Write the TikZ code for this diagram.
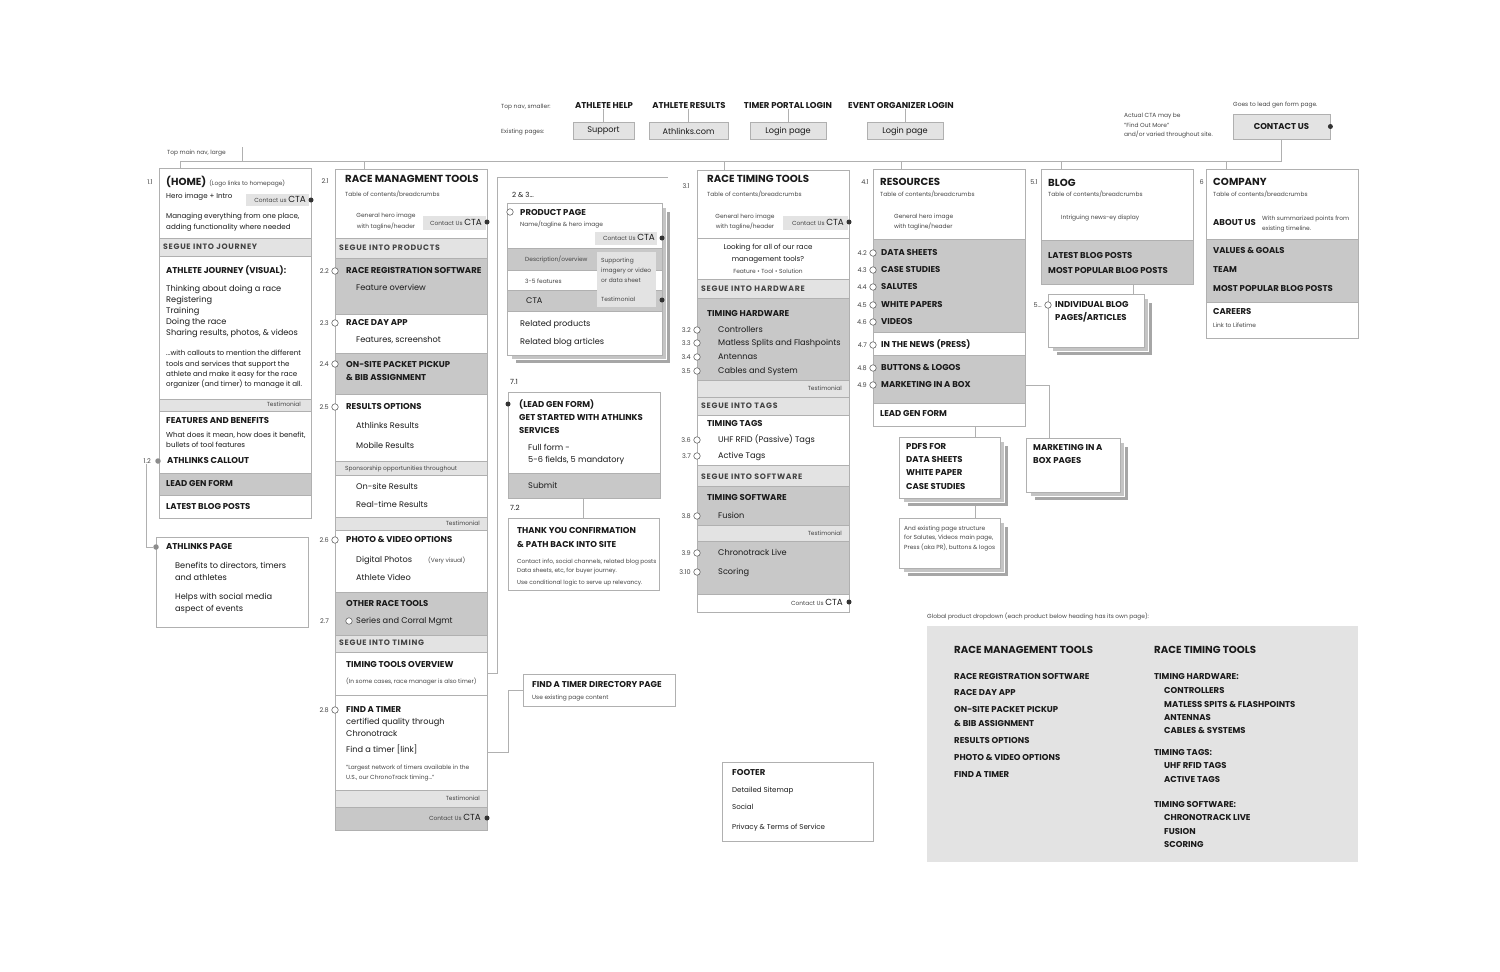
\documentclass[tikz,border=0pt]{standalone}
\usepackage{fontspec}
\setmainfont{Poppins}
\usetikzlibrary{fit,calc}
\definecolor{bd}{HTML}{B0B0B0}
\definecolor{lt}{HTML}{E3E3E3}
\definecolor{dk}{HTML}{C8C8C8}
\definecolor{tx}{HTML}{1A1A1A}
\definecolor{gtx}{HTML}{444444}
\definecolor{shA}{HTML}{C4C4C4}
\definecolor{shB}{HTML}{A6A6A6}
\newcommand\fhd{\fontsize{10.2}{11}\selectfont\bfseries}
\newcommand\fitm{\fontsize{8.5}{9.5}\selectfont\bfseries}
\newcommand\fseg{\fontsize{7.8}{8.5}\selectfont\bfseries\addfontfeature{LetterSpace=9}}
\newcommand\fbody{\fontsize{8.2}{9.5}\selectfont}
\newcommand\fsm{\fontsize{7.1}{8.5}\selectfont}
\newcommand\ftiny{\fontsize{5.9}{6.8}\selectfont}
\newcommand\fnum{\fontsize{6.5}{7}\selectfont}
\newcommand\fcta{\fontsize{8.8}{9.5}\selectfont}
\newcounter{tn}
\newcommand\Tx[3][]{\stepcounter{tn}\node[txt,#1] (t\arabic{tn}) at (#2) {#3};}
\newcommand\Sc[4][sec]{\node[#1,fit={(#3)(#4)}] (#2) {};}
\newcommand\Stk[3]{%
 \node[stk,fill=shB,fit={($(#2)+(8,8)$)($(#3)+(8,8)$)}] (#1-b) {};
 \node[stk,fill=shA,fit={($(#2)+(4,4)$)($(#3)+(4,4)$)}] (#1-a) {};
 \node[sec,fit={(#2)(#3)}] (#1) {};}
\newcommand\CTA{{\ftiny\color{gtx}Contact Us\ }{\fcta CTA}}
\tikzset{
 txt/.style={inner sep=0pt,anchor=mid west,text=tx,font=\fbody},
 hd/.style={font=\fhd}, itm/.style={font=\fitm}, seg/.style={font=\fseg,text=gtx},
 body/.style={font=\fbody}, sm/.style={font=\fsm}, tiny/.style={font=\ftiny,text=gtx},
 num/.style={font=\fnum,text=gtx,anchor=mid east},
 rt/.style={anchor=mid east}, ctr/.style={anchor=mid},
 sec/.style={draw=bd,line width=0.8pt,inner sep=0pt,fill=white},
 secl/.style={sec,fill=lt}, secd/.style={sec,fill=dk},
 pill/.style={fill=lt,inner sep=0pt},
 stk/.style={draw=white,line width=0.8pt,inner sep=0pt},
 odot/.style={circle,draw=black!60,fill=white,inner sep=0pt,minimum size=6.5pt,line width=0.6pt},
 fdot/.style={circle,fill=black!80,inner sep=0pt,minimum size=5pt},
 gdot/.style={circle,fill=black!45,inner sep=0pt,minimum size=5.5pt},
 ln/.style={draw=bd,line width=0.8pt},
 navbox/.style={draw=bd,fill=lt,line width=0.8pt,inner sep=0pt,minimum height=17pt,font=\fbody,text=tx},
 navh/.style={anchor=mid,font=\fitm},
 glob/.style={fill=lt,inner sep=0pt},
}
\begin{document}
\begin{tikzpicture}[x=1pt,y=-1pt]
\useasboundingbox (0,0) rectangle (1500,972);
\fill[white] (0,0) rectangle (1500,972);

% ---------- top nav ----------
\Tx[tiny]{501,106}{Top nav, smaller:}
\Tx[tiny]{501,131}{Existing pages:}
\node[txt,navh] (n1) at (604,106) {ATHLETE HELP};
\node[txt,navh] (n2) at (689,106) {ATHLETE RESULTS};
\node[txt,navh] (n3) at (788,106) {TIMER PORTAL LOGIN};
\node[txt,navh] (n4) at (901,106) {EVENT ORGANIZER LOGIN};
\node[navbox,minimum width=61pt] (p1) at (603.5,131) {Support};
\node[navbox,minimum width=79pt] (p2) at (688.5,131) {Athlinks.com};
\node[navbox,minimum width=76pt] (p3) at (788,131) {Login page};
\node[navbox,minimum width=76pt] (p4) at (905,131) {Login page};
\foreach \i in {1,...,4} \draw[ln] (n\i.south -| p\i.north) -- (p\i.north);

\Tx[tiny]{1124,115}{Actual CTA may be}
\Tx[tiny]{1124,125}{"Find Out More"}
\Tx[tiny]{1124,134}{and/or varied throughout site.}
\Tx[tiny]{1233,104}{Goes to lead gen form page.}
\node[navbox,minimum width=97pt,minimum height=25pt,font=\fitm] (cu) at (1281.5,126.5) {CONTACT US};
\node[fdot] (cud) at (cu.east) {};

% main nav line
\Tx[tiny]{167,152}{Top main nav, large}
\coordinate (mnL) at (180,161);
\coordinate (tm1) at (242,147);
\draw[ln] (tm1) -- (tm1 |- mnL);

% ---------- column 1 : home ----------
\Sc{c1a}{159,168}{311,238}
\Sc[secl]{c1b}{159,238}{311,256}
\Sc{c1c}{159,256}{311,399}
\Sc[secl]{c1d}{159,399}{311,411}
\Sc{c1e}{159,411}{311,473}
\Sc[secd]{c1f}{159,473}{311,495}
\Sc{c1g}{159,495}{311,518}
\Sc[pill]{cta1}{246,194}{309,206}
\node[fdot] (d1) at (311,200) {};
\Tx[num]{153,182}{1.1}
\Tx{166,183}{{\fhd (HOME)}\hspace{3pt}{\ftiny\color{gtx}(Logo links to homepage)}}
\Tx[sm]{166,196}{Hero image + Intro}
\Tx[rt]{306,200}{{\ftiny\color{gtx}Contact us\ }{\fcta CTA}}
\Tx[sm]{166,216}{Managing everything from one place,}
\Tx[sm]{166,227}{adding functionality where needed}
\Tx[seg]{163,247}{SEGUE INTO JOURNEY}
\Tx[itm]{166,271}{ATHLETE JOURNEY (VISUAL):}
\Tx{166,289}{Thinking about doing a race}
\Tx{166,300}{Registering}
\Tx{166,311}{Training}
\Tx{166,322}{Doing the race}
\Tx{166,333}{Sharing results, photos, \& videos}
\Tx[sm]{166,353}{...with callouts to mention the different}
\Tx[sm]{166,364}{tools and services that support the}
\Tx[sm]{166,374}{athlete and make it easy for the race}
\Tx[sm]{166,384}{organizer (and timer) to manage it all.}
\Tx[tiny,rt]{301,404}{Testimonial}
\Tx[itm]{166,421}{FEATURES AND BENEFITS}
\Tx[sm]{166,435}{What does it mean, how does it benefit,}
\Tx[sm]{166,445}{bullets of tool features}
\node[txt,num] (l12) at (151,461) {1.2};
\node[gdot] (d12) at (158,461) {};
\Tx[itm]{167,461}{ATHLINKS CALLOUT}
\Tx[itm]{166,484}{LEAD GEN FORM}
\Tx[itm]{166,507}{LATEST BLOG POSTS}
\draw[ln] (mnL) -- (mnL |- c1a.north);

% athlinks page
\Sc{ap}{156,537}{308,627}
\node[gdot] (apd) at (156,547) {};
\draw[ln] (l12.south -| 146,0) |- (apd);
\Tx[itm]{166,547}{ATHLINKS PAGE}
\Tx{175,566}{Benefits to directors, timers}
\Tx{175,578}{and athletes}
\Tx{175,597}{Helps with social media}
\Tx{175,609}{aspect of events}

% ---------- column 2 : race management ----------
\Sc{c2a}{335,169}{487,238}
\Sc[secl]{c2b}{335,238}{487,258}
\Sc[secd]{c2c}{335,258}{487,314}
\Sc{c2d}{335,314}{487,353}
\Sc[secd]{c2e}{335,353}{487,394}
\Sc{c2f}{335,394}{487,461}
\Sc[secl]{c2g}{335,461}{487,475}
\Sc{c2h}{335,475}{487,517}
\Sc[secl]{c2i}{335,517}{487,530}
\Sc{c2j}{335,530}{487,592}
\Sc[secd]{c2k}{335,592}{487,635}
\Sc[secl]{c2l}{335,635}{487,652}
\Sc{c2m}{335,652}{487,695}
\Sc{c2n}{335,695}{487,790}
\Sc[secl]{c2o}{335,790}{487,807}
\Sc[secd]{c2p}{335,807}{487,830}
\Sc[pill]{cta2}{423,216}{486,230}
\node[fdot] (d2) at (487,222) {};
\node[fdot] (d2b) at (487,818) {};
\Tx[num]{329,181}{2.1}
\Tx[hd]{345,180}{RACE MANAGMENT TOOLS}
\Tx[tiny]{345,194}{Table of contents/breadcrumbs}
\Tx[tiny,ctr]{386,215}{General hero image}
\Tx[tiny,ctr]{386,226}{with tagline/header}
\Tx[rt]{482,223}{\CTA}
\Tx[seg]{339,248}{SEGUE INTO PRODUCTS}
\foreach \y/\l/\n in {271/2.2/a,323/2.3/b,364/2.4/c,407/2.5/d,540/2.6/e,710/2.8/f}{
  \node[odot] (o2\n) at (335,\y) {};
  \node[txt,num] (l2\n) at (329,\y) {\l};}
\Tx[itm]{346,271}{RACE REGISTRATION SOFTWARE}
\Tx{356,288}{Feature overview}
\Tx[itm]{346,323}{RACE DAY APP}
\Tx{356,340}{Features, screenshot}
\Tx[itm]{346,365}{ON-SITE PACKET PICKUP}
\Tx[itm]{346,378}{\& BIB ASSIGNMENT}
\Tx[itm]{346,407}{RESULTS OPTIONS}
\Tx{356,426}{Athlinks Results}
\Tx{356,446}{Mobile Results}
\Tx[tiny]{345,468}{Sponsorship opportunities throughout}
\Tx{356,487}{On-site Results}
\Tx{356,505}{Real-time Results}
\Tx[tiny,rt]{480,523}{Testimonial}
\Tx[itm]{346,540}{PHOTO \& VIDEO OPTIONS}
\Tx{356,560}{Digital Photos}
\Tx[tiny]{428,560}{(Very visual)}
\Tx{356,578}{Athlete Video}
\Tx[itm]{346,604}{OTHER RACE TOOLS}
\node[txt,num] (l2g) at (329,621) {2.7};
\node[odot] (o2g) at (349,621) {};
\Tx{356,621}{Series and Corral Mgmt}
\Tx[seg]{339,643}{SEGUE INTO TIMING}
\Tx[itm]{346,665}{TIMING TOOLS OVERVIEW}
\Tx[tiny]{346,681}{(In some cases, race manager is also timer)}
\Tx[itm]{346,710}{FIND A TIMER}
\Tx{346,722}{certified quality through}
\Tx{346,734}{Chronotrack}
\Tx{346,750}{Find a timer [link]}
\Tx[tiny]{346,767}{"Largest network of timers available in the}
\Tx[tiny]{346,777}{U.S., our ChronoTrack timing..."}
\Tx[tiny,rt]{480,798}{Testimonial}
\Tx[rt]{481,818}{\CTA}
\draw[ln] ($(c2a.north west)+(30,0)$) -- ++(0,-8);

% bracket to product pages
\coordinate (br3) at (497,177);
\coordinate (br4) at (668,177);
\draw[ln] (c2m.east) -| (br3) -- (br4);

% ---------- product page ----------
\Stk{pp}{507,203}{662,355}
\Sc[secd]{ppb}{507,248}{662,270}
\Sc{ppc}{507,270}{662,290}
\Sc[secd]{ppd}{507,290}{662,311}
\Sc[pill]{ppov}{597,252}{656,307}
\Sc[pill]{ctap}{595,232}{657,245}
\node[fdot] (dp1) at (662,238) {};
\node[fdot] (dp2) at (662,300) {};
\node[odot] (op) at (510,212) {};
\Tx[sm]{512,195}{2 \& 3...}
\Tx[itm]{520,213}{PRODUCT PAGE}
\Tx[tiny]{520,224}{Name/tagline \& hero image}
\Tx[rt]{655,238}{\CTA}
\Tx[tiny]{525,259}{Description/overview}
\Tx[tiny]{525,281}{3-5 features}
\Tx{526,301}{CTA}
\Tx[tiny]{601,260}{Supporting}
\Tx[tiny]{601,270}{imagery or video}
\Tx[tiny]{601,280}{or data sheet}
\Tx[tiny]{601,299}{Testimonial}
\Tx{520,324}{Related products}
\Tx{520,342}{Related blog articles}

% lead gen form 7.1
\Sc{lg}{508,392}{660,473}
\Sc[secd]{lgs}{508,473}{660,498}
\node[fdot] (dlg) at (508,404) {};
\Tx[sm]{510,382}{7.1}
\Tx[itm]{519,405}{(LEAD GEN FORM)}
\Tx[itm]{519,418}{GET STARTED WITH ATHLINKS}
\Tx[itm]{519,431}{SERVICES}
\Tx{528,448}{Full form -}
\Tx{528,460}{5-6 fields, 5 mandatory}
\Tx{528,486}{Submit}
\Tx[sm]{510,508}{7.2}
\Sc{ty}{508,518}{659,590}
\coordinate (s72) at (583,498);
\draw[ln] (s72) -- (s72 |- ty.north);
\Tx[itm]{517,531}{THANK YOU CONFIRMATION}
\Tx[itm]{517,545}{\& PATH BACK INTO SITE}
\Tx[tiny,font=\fontsize{5.8}{6.5}\selectfont]{517,561}{Contact info, social channels, related blog posts}
\Tx[tiny,font=\fontsize{5.8}{6.5}\selectfont]{517,570}{Data sheets, etc, for buyer journey.}
\Tx[tiny,font=\fontsize{5.8}{6.5}\selectfont]{517,582}{Use conditional logic to serve up relevancy.}

% find a timer directory
\Sc{ftd}{523,674}{675,706}
\Tx[itm]{532,685}{FIND A TIMER DIRECTORY PAGE}
\Tx[tiny]{532,697}{Use existing page content}
\coordinate (ftA) at (487,752);
\draw[ln] (ftA) -| ($(ftd.west)+(-14,0)$) -- (ftd.west);

% ---------- column 4 : race timing ----------
\Sc{c4a}{697,170}{849,238}
\Sc{c4b}{697,238}{849,279}
\Sc[secl]{c4c}{697,279}{849,298}
\Sc[secd]{c4d}{697,298}{849,380}
\Sc[secl]{c4e}{697,380}{849,397}
\Sc[secl]{c4f}{697,397}{849,415}
\Sc{c4g}{697,415}{849,465}
\Sc[secl]{c4h}{697,465}{849,486}
\Sc[secd]{c4i}{697,486}{849,525}
\Sc[secl]{c4j}{697,525}{849,541}
\Sc[secd]{c4k}{697,541}{849,594}
\Sc{c4l}{697,594}{849,612}
\Sc[pill]{cta4}{783,216}{848,230}
\node[fdot] (d4) at (849,222) {};
\node[fdot] (d4b) at (849,602) {};
\Tx[num]{690,186}{3.1}
\Tx[hd]{707,180}{RACE TIMING TOOLS}
\Tx[tiny]{707,194}{Table of contents/breadcrumbs}
\Tx[tiny,ctr]{745,216}{General hero image}
\Tx[tiny,ctr]{745,226}{with tagline/header}
\Tx[rt]{844,223}{\CTA}
\Tx[sm,ctr]{768,247}{Looking for all of our race}
\Tx[sm,ctr]{768,259}{management tools?}
\Tx[tiny,ctr]{768,271}{Feature \textbullet{} Tool \textbullet{} Solution}
\Tx[seg]{701,289}{SEGUE INTO HARDWARE}
\Tx[itm]{707,314}{TIMING HARDWARE}
\foreach \y/\l/\n/\t in {330/3.2/a/Controllers,343/3.3/b/Matless Splits and Flashpoints,357/3.4/c/Antennas,371/3.5/d/Cables and System,440/3.6/e/UHF RFID (Passive) Tags,456/3.7/f/Active Tags,516/3.8/g/Fusion,553/3.9/h/Chronotrack Live,572/3.10/i/Scoring}{
  \node[odot] (o4\n) at (697,\y) {};
  \node[txt,num] (l4\n) at (691,\y) {\l};
  \node[txt] (x4\n) at (718,\y) {\t};}
\Tx[tiny,rt]{842,388}{Testimonial}
\Tx[seg]{701,406}{SEGUE INTO TAGS}
\Tx[itm]{707,424}{TIMING TAGS}
\Tx[seg]{701,477}{SEGUE INTO SOFTWARE}
\Tx[itm]{707,498}{TIMING SOFTWARE}
\Tx[tiny,rt]{842,533}{Testimonial}
\Tx[rt]{843,603}{\CTA}
\draw[ln] ($(c4a.north west)+(28,0)$) -- ++(0,-9);

% ---------- column 5 : resources ----------
\Sc{c5a}{873,169}{1025,239}
\Sc[secd]{c5b}{873,239}{1025,332}
\Sc{c5c}{873,332}{1025,355}
\Sc[secd]{c5d}{873,355}{1025,403}
\Sc{c5e}{873,403}{1025,426}
\Tx[num]{869,182}{4.1}
\Tx[hd]{880,183}{RESOURCES}
\Tx[tiny]{880,194}{Table of contents/breadcrumbs}
\Tx[tiny]{894,216}{General hero image}
\Tx[tiny]{894,226}{with tagline/header}
\foreach \y/\l/\n/\t in {253/4.2/a/DATA SHEETS,270/4.3/b/CASE STUDIES,287/4.4/c/SALUTES,305/4.5/d/WHITE PAPERS,322/4.6/e/VIDEOS,345/4.7/f/IN THE NEWS (PRESS),368/4.8/g/BUTTONS \& LOGOS,385/4.9/h/MARKETING IN A BOX}{
  \node[odot] (o5\n) at (873,\y) {};
  \node[txt,num] (l5\n) at (867,\y) {\l};
  \node[txt,itm] (x5\n) at (881,\y) {\t};}
\Tx[itm]{880,414}{LEAD GEN FORM}
\draw[ln] ($(c5a.north west)+(29,0)$) -- ++(0,-8);

\Stk{pdf}{899,437}{1000,498}
\Tx[itm]{906,447}{PDFS FOR}
\Tx[itm]{906,460}{DATA SHEETS}
\Tx[itm]{906,473}{WHITE PAPER}
\Tx[itm]{906,487}{CASE STUDIES}
\coordinate (r5) at (975,426);
\draw[ln] (r5) -- (r5 |- pdf.north);
\Stk{pex}{899,518}{1000,568}
\Tx[tiny]{904,528}{And existing page structure}
\Tx[tiny]{904,537}{for Salutes, Videos main page,}
\Tx[tiny]{904,547}{Press (aka PR), buttons \& logos}
\coordinate (r6) at (975,506);
\draw[ln] (r6) -- (r6 |- pex.north);

\Stk{mkt}{1026,438}{1120,492}
\Tx[itm]{1033,448}{MARKETING IN A}
\Tx[itm]{1033,461}{BOX PAGES}
\coordinate (m49) at (1025,385);
\draw[ln] (m49) -| ($(mkt.north west)+(24,0)$);

% ---------- column 6 : blog ----------
\Sc{c6a}{1041,169}{1193,240}
\Sc[secd]{c6b}{1041,240}{1193,284}
\Tx[num]{1038,182}{5.1}
\Tx[hd]{1048,184}{BLOG}
\Tx[tiny]{1048,194}{Table of contents/breadcrumbs}
\Tx[tiny]{1061,217}{Intriguing news-ey display}
\Tx[itm]{1048,256}{LATEST BLOG POSTS}
\Tx[itm]{1048,271}{MOST POPULAR BLOG POSTS}
\draw[ln] ($(c6a.north west)+(21,0)$) -- ++(0,-8);
\Stk{ib}{1048,294}{1144,347}
\node[odot] (oib) at (1048,305) {};
\node[txt,num] (lib) at (1042,305) {5...};
\Tx[itm]{1055,305}{INDIVIDUAL BLOG}
\Tx[itm]{1055,318}{PAGES/ARTICLES}
\coordinate (b5) at (1133,284);
\draw[ln] (b5) -- (b5 |- ib.north);

% ---------- column 7 : company ----------
\Sc{c7a}{1206,169}{1358,239}
\Sc[secd]{c7b}{1206,239}{1358,302}
\Sc{c7c}{1206,302}{1358,338}
\Tx[num]{1204,182}{6}
\Tx[hd]{1213,183}{COMPANY}
\Tx[tiny]{1213,194}{Table of contents/breadcrumbs}
\Tx[itm]{1213,223}{ABOUT US}
\Tx[tiny]{1262,218}{With summarized points from}
\Tx[tiny]{1262,228}{existing timeline.}
\Tx[itm]{1213,251}{VALUES \& GOALS}
\Tx[itm]{1213,270}{TEAM}
\Tx[itm]{1213,289}{MOST POPULAR BLOG POSTS}
\Tx[itm]{1213,312}{CAREERS}
\Tx[tiny]{1213,325}{Link to Lifetime}
\draw[ln] ($(c7a.north west)+(21,0)$) -- ++(0,-8);

% main nav connector from contact us
\draw[ln] (cu.south) |- (mnL);

% ---------- footer ----------
\Sc{ft}{722,762}{873,841}
\Tx[itm]{732,773}{FOOTER}
\Tx[sm]{732,790}{Detailed Sitemap}
\Tx[sm]{732,807}{Social}
\Tx[sm]{732,827}{Privacy \& Terms of Service}

% ---------- global dropdown ----------
\Tx[tiny]{927,616}{Global product dropdown (each product below heading has its own page):}
\Sc[glob]{gl}{927,626}{1358,862}
\Tx[hd]{954,651}{RACE MANAGEMENT TOOLS}
\Tx[itm]{954,677}{RACE REGISTRATION SOFTWARE}
\Tx[itm]{954,693}{RACE DAY APP}
\Tx[itm]{954,710}{ON-SITE PACKET PICKUP}
\Tx[itm]{954,724}{\& BIB ASSIGNMENT}
\Tx[itm]{954,741}{RESULTS OPTIONS}
\Tx[itm]{954,758}{PHOTO \& VIDEO OPTIONS}
\Tx[itm]{954,775}{FIND A TIMER}
\Tx[hd]{1154,651}{RACE TIMING TOOLS}
\Tx[itm]{1154,677}{TIMING HARDWARE:}
\Tx[itm]{1164,691}{CONTROLLERS}
\Tx[itm]{1164,705}{MATLESS SPITS \& FLASHPOINTS}
\Tx[itm]{1164,718}{ANTENNAS}
\Tx[itm]{1164,731}{CABLES \& SYSTEMS}
\Tx[itm]{1154,753}{TIMING TAGS:}
\Tx[itm]{1164,766}{UHF RFID TAGS}
\Tx[itm]{1164,780}{ACTIVE TAGS}
\Tx[itm]{1154,805}{TIMING SOFTWARE:}
\Tx[itm]{1164,818}{CHRONOTRACK LIVE}
\Tx[itm]{1164,832}{FUSION}
\Tx[itm]{1164,845}{SCORING}
\end{tikzpicture}
\end{document}
